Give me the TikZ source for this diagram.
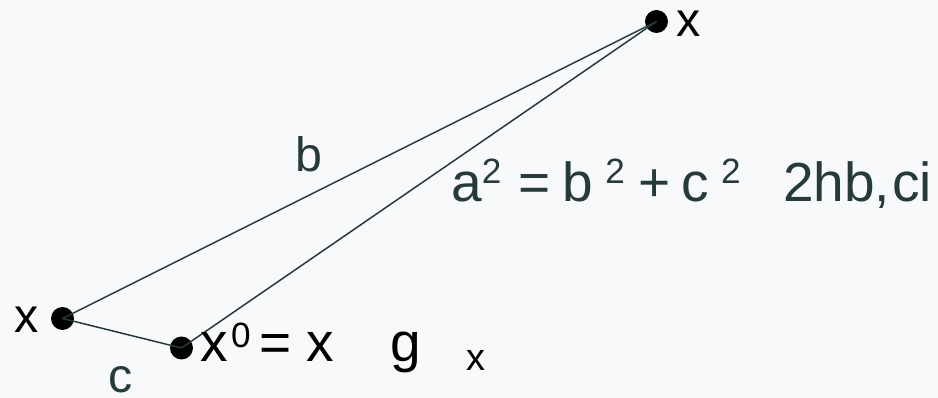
\documentclass[tikz,border=0pt]{standalone}
\usepackage{fontspec}
\setmainfont{Liberation Sans}
\usepackage{xcolor}
\definecolor{slate}{HTML}{263A3A}
\definecolor{paper}{HTML}{F8F9FA}
\newcommand{\sups}[2][10.5pt]{\raisebox{#1}{\fontsize{20}{22}\selectfont #2}}
\usetikzlibrary{positioning}

\begin{document}
\begin{tikzpicture}[
    x=0.02cm, y=-0.02cm,
    dot/.style={circle, fill=black, inner sep=0pt, minimum size=0.46cm},
    lbl/.style={anchor=base west, inner sep=0pt, font=\fontsize{27.5}{32}\selectfont},
    eq/.style={anchor=base west, inner sep=0pt, font=\fontsize{31.3}{36}\selectfont},
    side/.style={draw=slate, line width=0.85pt}
]

% Background
\fill[paper] (0,0) rectangle (938,398);

% Points
\node[dot] (top) at (656.5,21.5) {};
\node[dot] (left) at (62.5,318.5) {};
\node[dot] (low) at (181.5,348) {};

% Sides
\draw[side] (left.center) -- (top.center);
\draw[side] (low.center) -- (top.center);
\draw[side] (left.center) -- (low.center);

% Point labels
\node[lbl] (xtop) at (675.7,37) {x};
\node[lbl] (xleft) at (13.7,333) {x};

% Side labels
\node[lbl, text=slate] (sideb) at (294.8,172) {b};
\node[lbl, text=slate] (sidec) at (108.1,393) {c};

% Law of cosines
\node[eq, text=slate] (law) at (451,202) {a\sups{2}\hspace{9.5pt}=\hspace{7pt}b\hspace{7pt}\sups{2}\hspace{7.9pt}+\hspace{6.1pt}c\hspace{6.8pt}\sups{2}\hspace{24.1pt}2hb,\hspace{1.4pt}ci};

% Update rule
\node[eq] (step) at (200.6,362) {x\hspace{1.5pt}\sups[8pt]{0}\hspace{5pt}=\hspace{8.8pt}x\hspace{31.9pt}g\hspace{26.1pt}\raisebox{-4.6pt}{\fontsize{21.6}{24}\selectfont x}};

\end{tikzpicture}
\end{document}
